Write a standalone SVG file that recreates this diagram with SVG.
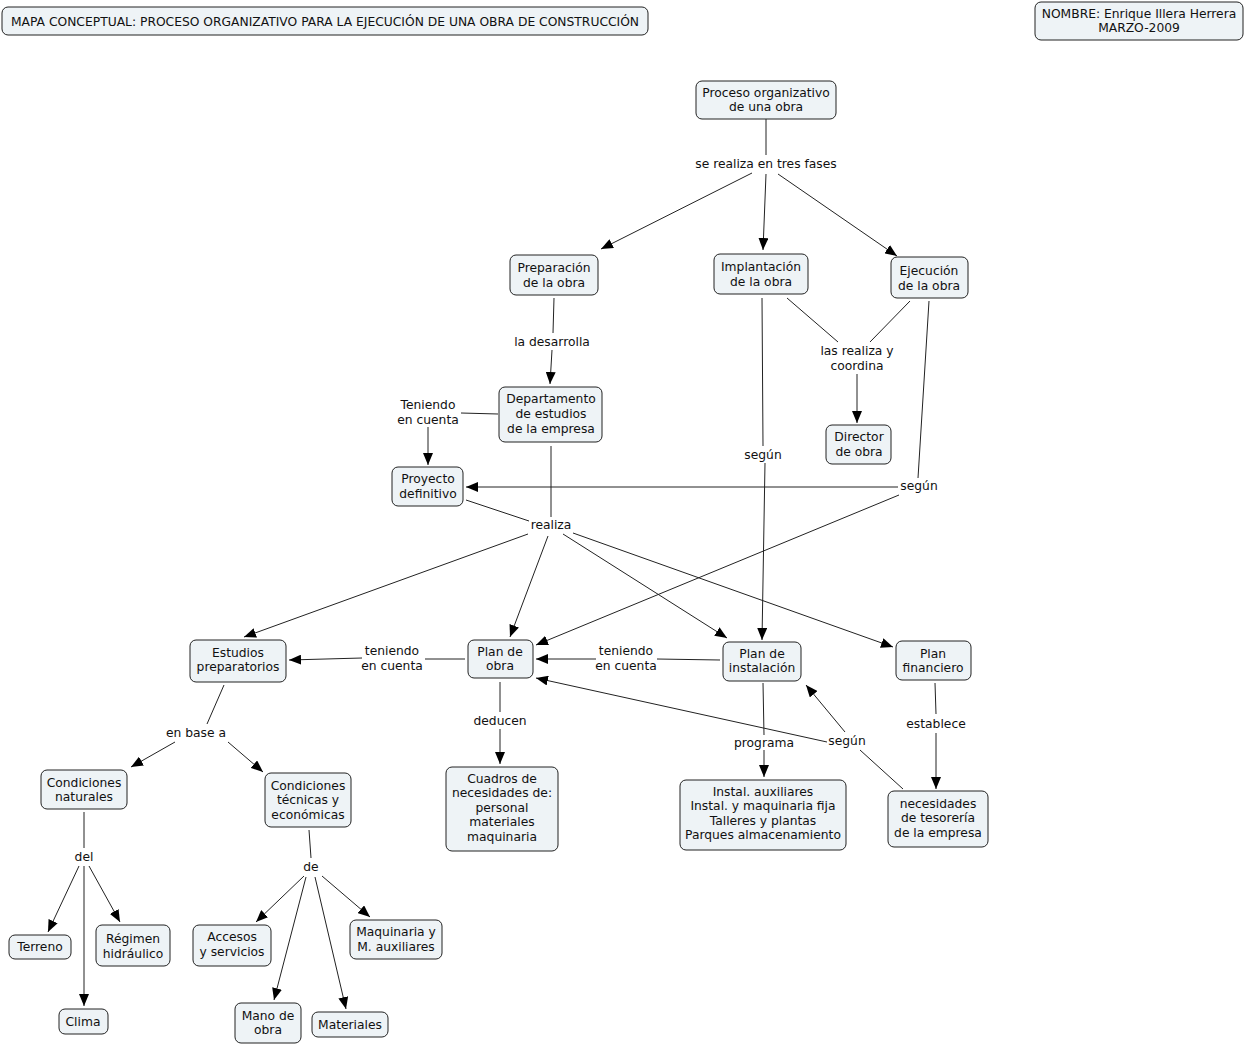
<svg xmlns="http://www.w3.org/2000/svg" width="1245" height="1045" viewBox="0 0 1245 1045">
<style>
.n rect{fill:#eef3f6;stroke:#222;stroke-width:1}
text{font-family:"DejaVu Sans","Liberation Sans",sans-serif;font-size:12.3px;fill:#111;text-anchor:middle}
#c line{stroke:#222;stroke-width:1}
#c line.ar{marker-end:url(#a)}
</style>
<defs>
<marker id="a" viewBox="0 0 12 10" refX="12" refY="5" markerWidth="12" markerHeight="10" orient="auto" markerUnits="userSpaceOnUse"><path d="M0,0 L12,5 L0,10 z" fill="#000"/></marker>
</defs>
<rect width="1245" height="1045" fill="#fff"/>
<g id="c">
<line x1="766" y1="119" x2="766" y2="155"/>
<line class="ar" x1="752" y1="173" x2="601" y2="249"/>
<line class="ar" x1="766" y1="174" x2="763" y2="250"/>
<line class="ar" x1="778" y1="174" x2="897" y2="256"/>
<line x1="554" y1="298" x2="553" y2="333"/>
<line class="ar" x1="552" y1="350" x2="550" y2="384"/>
<line x1="498" y1="414" x2="461" y2="413"/>
<line class="ar" x1="428" y1="427" x2="428" y2="465"/>
<line x1="551" y1="446" x2="551" y2="517"/>
<line x1="466" y1="500" x2="529" y2="521"/>
<line class="ar" x1="528" y1="534" x2="244" y2="637"/>
<line class="ar" x1="548" y1="536" x2="510" y2="637"/>
<line class="ar" x1="563" y1="534" x2="727" y2="638"/>
<line class="ar" x1="573" y1="533" x2="893" y2="647"/>
<line x1="762" y1="298" x2="763" y2="446"/>
<line class="ar" x1="765" y1="463" x2="762" y2="640"/>
<line x1="787" y1="298" x2="838" y2="342"/>
<line x1="910" y1="301" x2="870" y2="342"/>
<line class="ar" x1="857" y1="374" x2="857" y2="423"/>
<line x1="929" y1="301" x2="918" y2="478"/>
<line class="ar" x1="898" y1="487" x2="466" y2="487"/>
<line class="ar" x1="899" y1="495" x2="536" y2="645"/>
<line x1="720" y1="660" x2="657" y2="659"/>
<line class="ar" x1="596" y1="659" x2="536" y2="659"/>
<line x1="465" y1="659" x2="425" y2="659"/>
<line class="ar" x1="362" y1="658" x2="289" y2="660"/>
<line x1="500" y1="682" x2="500" y2="712"/>
<line class="ar" x1="500" y1="729" x2="500" y2="764"/>
<line x1="763" y1="683" x2="764" y2="735"/>
<line class="ar" x1="764" y1="750" x2="764" y2="777"/>
<line x1="903" y1="789" x2="860" y2="750"/>
<line class="ar" x1="827" y1="742" x2="536" y2="678"/>
<line class="ar" x1="845" y1="732" x2="806" y2="685"/>
<line x1="935" y1="683" x2="936" y2="714"/>
<line class="ar" x1="936" y1="733" x2="936" y2="789"/>
<line x1="224" y1="685" x2="207" y2="724"/>
<line class="ar" x1="175" y1="742" x2="131" y2="767"/>
<line class="ar" x1="228" y1="742" x2="263" y2="772"/>
<line x1="84" y1="812" x2="84" y2="848"/>
<line class="ar" x1="79" y1="866" x2="48" y2="932"/>
<line class="ar" x1="84" y1="866" x2="84" y2="1006"/>
<line class="ar" x1="89" y1="866" x2="120" y2="922"/>
<line x1="309" y1="830" x2="311" y2="858"/>
<line class="ar" x1="304" y1="876" x2="256" y2="922"/>
<line class="ar" x1="306" y1="877" x2="274" y2="1000"/>
<line class="ar" x1="315" y1="877" x2="346" y2="1009"/>
<line class="ar" x1="322" y1="876" x2="370" y2="917"/>
</g>
<g id="labels">
<text x="766" y="168">se realiza en tres fases</text>
<text x="552" y="346">la desarrolla</text>
<text x="428" y="409">Teniendo</text><text x="428" y="424">en cuenta</text>
<text x="857" y="355">las realiza y</text><text x="857" y="370">coordina</text>
<text x="763" y="459">según</text>
<text x="919" y="490">según</text>
<text x="551" y="529">realiza</text>
<text x="392" y="655">teniendo</text><text x="392" y="670">en cuenta</text>
<text x="626" y="655">teniendo</text><text x="626" y="670">en cuenta</text>
<text x="500" y="725">deducen</text>
<text x="764" y="747">programa</text>
<text x="847" y="745">según</text>
<text x="936" y="728">establece</text>
<text x="196" y="737">en base a</text>
<text x="84" y="861">del</text>
<text x="311" y="871">de</text>
</g>
<g id="title" class="n"><rect x="2" y="7" width="646" height="28" rx="6"/><text x="325" y="26">MAPA CONCEPTUAL: PROCESO ORGANIZATIVO PARA LA EJECUCIÓN DE UNA OBRA DE CONSTRUCCIÓN</text></g>
<g id="nombre" class="n"><rect x="1035" y="2" width="208" height="38" rx="6"/><text x="1139" y="18">NOMBRE: Enrique Illera Herrera</text><text x="1139" y="32">MARZO-2009</text></g>
<g id="proceso" class="n"><rect x="696" y="81" width="140" height="38" rx="6"/><text x="766" y="97">Proceso organizativo</text><text x="766" y="111">de una obra</text></g>
<g id="preparacion" class="n"><rect x="510" y="255" width="88" height="40" rx="6"/><text x="554" y="272">Preparación</text><text x="554" y="287">de la obra</text></g>
<g id="implantacion" class="n"><rect x="714" y="254" width="94" height="40" rx="6"/><text x="761" y="271">Implantación</text><text x="761" y="286">de la obra</text></g>
<g id="ejecucion" class="n"><rect x="891" y="257" width="77" height="41" rx="6"/><text x="929" y="275">Ejecución</text><text x="929" y="290">de la obra</text></g>
<g id="departamento" class="n"><rect x="499" y="387" width="103" height="55" rx="6"/><text x="551" y="403">Departamento</text><text x="551" y="418">de estudios</text><text x="551" y="433">de la empresa</text></g>
<g id="proyecto" class="n"><rect x="392" y="467" width="71" height="39" rx="6"/><text x="428" y="483">Proyecto</text><text x="428" y="498">definitivo</text></g>
<g id="director" class="n"><rect x="826" y="425" width="65" height="39" rx="6"/><text x="859" y="441">Director</text><text x="859" y="456">de obra</text></g>
<g id="estudios" class="n"><rect x="190" y="640" width="96" height="42" rx="6"/><text x="238" y="657">Estudios</text><text x="238" y="671">preparatorios</text></g>
<g id="planobra" class="n"><rect x="468" y="640" width="65" height="38" rx="6"/><text x="500" y="656">Plan de</text><text x="500" y="670">obra</text></g>
<g id="planinst" class="n"><rect x="723" y="642" width="78" height="39" rx="6"/><text x="762" y="658">Plan de</text><text x="762" y="672">instalación</text></g>
<g id="planfin" class="n"><rect x="896" y="641" width="75" height="39" rx="6"/><text x="933" y="658">Plan</text><text x="933" y="672">financiero</text></g>
<g id="condnat" class="n"><rect x="41" y="770" width="86" height="39" rx="6"/><text x="84" y="787">Condiciones</text><text x="84" y="801">naturales</text></g>
<g id="condtec" class="n"><rect x="265" y="773" width="86" height="54" rx="6"/><text x="308" y="790">Condiciones</text><text x="308" y="804">técnicas y</text><text x="308" y="819">económicas</text></g>
<g id="cuadros" class="n"><rect x="446" y="767" width="112" height="84" rx="6"/><text x="502" y="783">Cuadros de</text><text x="502" y="797">necesidades de:</text><text x="502" y="812">personal</text><text x="502" y="826">materiales</text><text x="502" y="841">maquinaria</text></g>
<g id="instal" class="n"><rect x="680" y="780" width="166" height="70" rx="6"/><text x="763" y="796">Instal. auxiliares</text><text x="763" y="810">Instal. y maquinaria fija</text><text x="763" y="825">Talleres y plantas</text><text x="763" y="839">Parques almacenamiento</text></g>
<g id="tesoreria" class="n"><rect x="888" y="791" width="100" height="56" rx="6"/><text x="938" y="808">necesidades</text><text x="938" y="822">de tesorería</text><text x="938" y="837">de la empresa</text></g>
<g id="terreno" class="n"><rect x="9" y="935" width="62" height="24" rx="6"/><text x="40" y="951">Terreno</text></g>
<g id="regimen" class="n"><rect x="96" y="925" width="74" height="41" rx="6"/><text x="133" y="943">Régimen</text><text x="133" y="958">hidráulico</text></g>
<g id="clima" class="n"><rect x="59" y="1009" width="49" height="25" rx="6"/><text x="83" y="1026">Clima</text></g>
<g id="accesos" class="n"><rect x="193" y="925" width="78" height="41" rx="6"/><text x="232" y="941">Accesos</text><text x="232" y="956">y servicios</text></g>
<g id="maquinaria" class="n"><rect x="350" y="920" width="92" height="39" rx="6"/><text x="396" y="936">Maquinaria y</text><text x="396" y="951">M. auxiliares</text></g>
<g id="manoobra" class="n"><rect x="235" y="1003" width="66" height="40" rx="6"/><text x="268" y="1020">Mano de</text><text x="268" y="1034">obra</text></g>
<g id="materiales" class="n"><rect x="312" y="1012" width="76" height="25" rx="6"/><text x="350" y="1029">Materiales</text></g>
</svg>
